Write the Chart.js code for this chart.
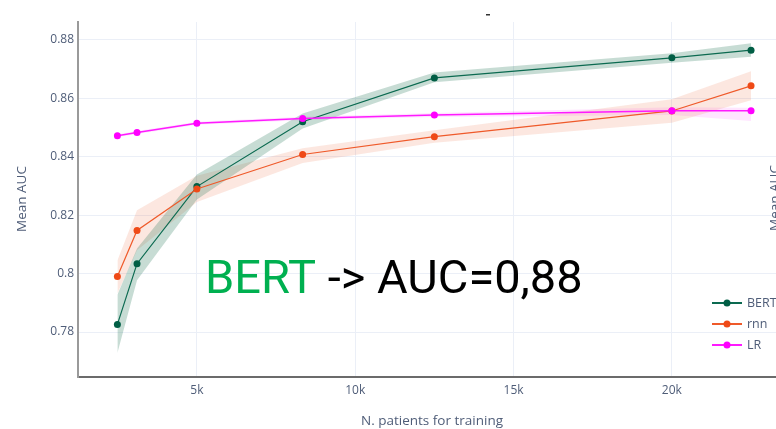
<!DOCTYPE html>
<html>
<head>
<meta charset="utf-8">
<script src="https://cdn.jsdelivr.net/npm/chart.js@4/dist/chart.umd.min.js"></script>
<style>
  html, body { margin: 0; padding: 0; background: #fff; overflow: hidden; }
  #frame { width: 776px; height: 429px; overflow: hidden; }
  #c { display: block; }
</style>
</head>
<body>
<div id="frame"><canvas id="c" width="781" height="429"></canvas></div>
<script>
// Training-set sizes (number of patients)
const trainSizes = [2490, 3110, 5000, 8340, 12500, 20000, 22500];

// Mean AUC per model, with lower / upper bounds of the shaded band
const bertMean  = [0.7826, 0.8034, 0.8298, 0.8520, 0.8670, 0.8739, 0.8765];
const bertLow   = [0.7728, 0.7977, 0.8254, 0.8497, 0.8655, 0.8722, 0.8743];
const bertHigh  = [0.7928, 0.8086, 0.8339, 0.8548, 0.8689, 0.8755, 0.8789];

const rnnMean   = [0.7990, 0.8148, 0.8290, 0.8408, 0.8469, 0.8557, 0.8643];
const rnnLow    = [0.7932, 0.8080, 0.8245, 0.8379, 0.8448, 0.8517, 0.8594];
const rnnHigh   = [0.8045, 0.8217, 0.8335, 0.8429, 0.8491, 0.8597, 0.8693];

const lrMean    = [0.8472, 0.8483, 0.8515, 0.8531, 0.8543, 0.8558, 0.8558];
const lrLow     = [0.8467, 0.8478, 0.8510, 0.8525, 0.8536, 0.8543, 0.8523];
const lrHigh    = [0.8477, 0.8488, 0.8520, 0.8537, 0.8550, 0.8570, 0.8568];

// Axis ticks
const xTicks = [5000, 10000, 15000, 20000];
const xTickLabels = ['5k', '10k', '15k', '20k'];
const yTicks = [0.78, 0.80, 0.82, 0.84, 0.86, 0.88];
const yTickLabels = ['0.78', '0.8', '0.82', '0.84', '0.86', '0.88'];

const seriesNames = ['BERT', 'rnn', 'LR'];
const lineColors  = ['#0b6a50', '#ef5a2a', '#ff1aff'];
const markColors  = ['#015e45', '#ef4a17', '#ff00ff'];
const bandColors  = ['rgba(20,110,75,0.24)', 'rgba(239,110,70,0.17)', 'rgba(255,0,255,0.10)'];

const toXY = arr => arr.map((v, i) => ({ x: trainSizes[i], y: v }));

function bandPair(low, high, color) {
  return [
    { data: toXY(low), borderWidth: 0, pointRadius: 0, fill: false, order: 20, borderColor: 'transparent' },
    { data: toXY(high), borderWidth: 0, pointRadius: 0, fill: '-1', backgroundColor: color, order: 20, borderColor: 'transparent' }
  ];
}

function meanLine(values, i, order, width) {
  return {
    label: seriesNames[i],
    data: toXY(values),
    borderColor: lineColors[i],
    backgroundColor: markColors[i],
    pointBackgroundColor: markColors[i],
    pointBorderColor: markColors[i],
    pointRadius: 3.5,
    pointBorderWidth: 0,
    borderWidth: width,
    fill: false,
    order: order
  };
}

const datasets = [
  ...bandPair(bertLow, bertHigh, bandColors[0]),
  ...bandPair(rnnLow, rnnHigh, bandColors[1]),
  ...bandPair(lrLow, lrHigh, bandColors[2]),
  meanLine(bertMean, 0, 3, 1.2),
  meanLine(rnnMean, 1, 2, 1.2),
  meanLine(lrMean, 2, 1, 1.5)
];

const textColor = '#4f5d78';
const tickFont = { family: '"Open Sans", "Liberation Sans", sans-serif', size: 12 };

// Axis titles, legend box and headline text
const overlayPlugin = {
  id: 'overlay',
  afterDraw(chart) {
    const ctx = chart.ctx;
    ctx.save();

    // axis titles
    ctx.fillStyle = textColor;
    ctx.font = '13.5px "Open Sans", "Liberation Sans", sans-serif';
    ctx.textAlign = 'center';
    ctx.textBaseline = 'middle';
    ctx.fillText('N. patients for training', 432, 421);

    ctx.save();
    ctx.translate(22.5, 199);
    ctx.rotate(-Math.PI / 2);
    ctx.fillText('Mean AUC', 0, 0);
    ctx.restore();

    ctx.save();
    ctx.translate(775, 198);
    ctx.rotate(-Math.PI / 2);
    ctx.fillText('Mean AUC', 0, 0);
    ctx.restore();

    // small dash above the plot
    ctx.fillStyle = '#333';
    ctx.fillRect(486, 14, 4, 1.5);

    // legend
    const legendX = 712, legendY = [303, 324, 345];
    ctx.font = '12.5px "Open Sans", "Liberation Sans", sans-serif';
    ctx.textAlign = 'left';
    for (let i = 0; i < seriesNames.length; i++) {
      const y = legendY[i];
      ctx.strokeStyle = lineColors[i];
      ctx.lineWidth = 2;
      ctx.beginPath();
      ctx.moveTo(legendX, y);
      ctx.lineTo(legendX + 30, y);
      ctx.stroke();
      ctx.fillStyle = markColors[i];
      ctx.beginPath();
      ctx.arc(legendX + 15, y, 3.5, 0, Math.PI * 2);
      ctx.fill();
      ctx.fillStyle = textColor;
      ctx.fillText(seriesNames[i], legendX + 35, y + 0.5);
    }

    // headline
    ctx.textBaseline = 'alphabetic';
    ctx.font = '47px Roboto, "Noto Sans", sans-serif';
    const head1 = 'BERT';
    const head2 = ' -> AUC=0,88';
    ctx.fillStyle = '#00b050';
    ctx.fillText(head1, 205, 293);
    const w = ctx.measureText(head1).width;
    ctx.fillStyle = '#000';
    ctx.fillText(head2, 205 + w, 293);

    ctx.restore();
  }
};

new Chart(document.getElementById('c'), {
  type: 'line',
  data: { datasets },
  options: {
    responsive: false,
    animation: false,
    devicePixelRatio: 1,
    layout: { padding: { top: 22, left: 0, right: 0, bottom: 0 } },
    plugins: { legend: { display: false }, tooltip: { enabled: false } },
    elements: { line: { tension: 0 } },
    scales: {
      x: {
        type: 'linear',
        min: 1246,
        max: 23320,
        afterBuildTicks(s) { s.ticks = xTicks.map(v => ({ value: v })); },
        afterFit(s) { s.height = 52; },
        ticks: {
          color: textColor,
          font: tickFont,
          padding: 6,
          maxRotation: 0,
          callback(v) { const i = xTicks.indexOf(v); return i >= 0 ? xTickLabels[i] : ''; }
        },
        grid: { color: '#ebeff7', lineWidth: 1, drawTicks: false },
        border: { color: '#6b6b6b', width: 2 }
      },
      y: {
        type: 'linear',
        min: 0.7646,
        max: 0.88616,
        afterBuildTicks(s) { s.ticks = yTicks.map(v => ({ value: v })); },
        afterFit(s) { s.width = 78; },
        ticks: {
          color: textColor,
          font: tickFont,
          padding: 4,
          callback(v) { const i = yTicks.findIndex(t => Math.abs(t - v) < 1e-9); return i >= 0 ? yTickLabels[i] : ''; }
        },
        grid: { color: '#ebeff7', lineWidth: 1, drawTicks: false },
        border: { color: '#9a9a9a', width: 2 }
      }
    }
  },
  plugins: [overlayPlugin]
});
</script>
</body>
</html>
